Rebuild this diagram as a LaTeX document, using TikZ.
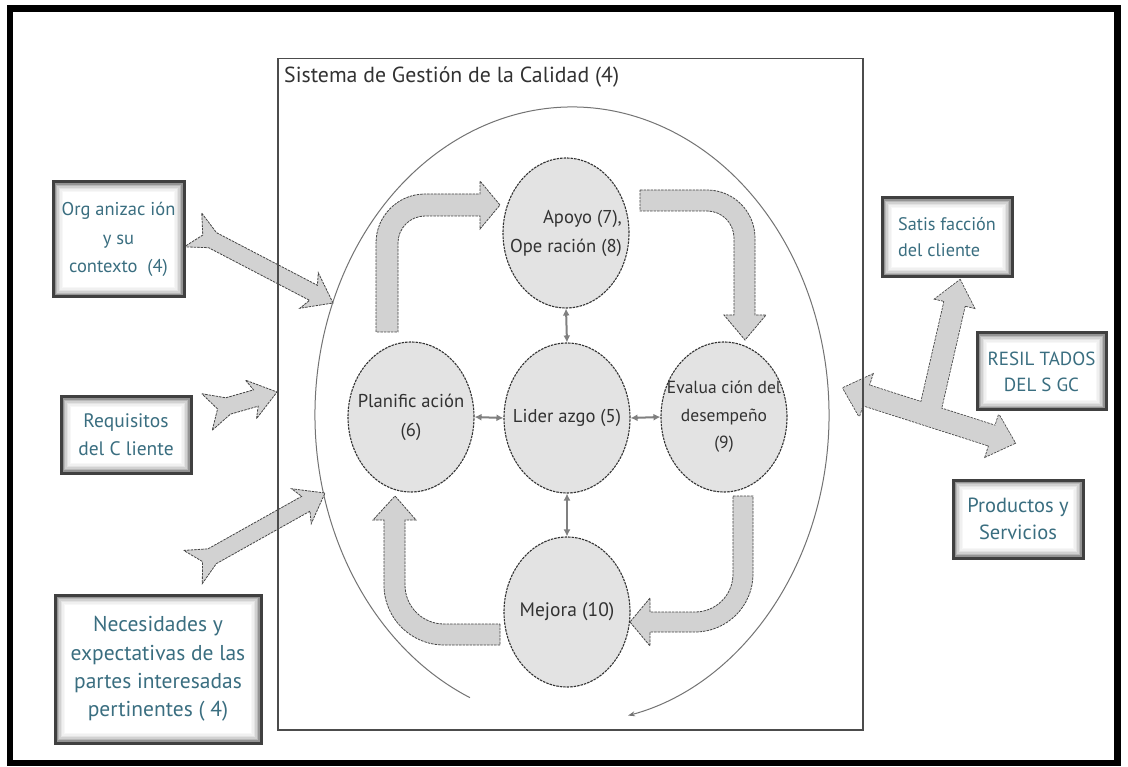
\documentclass[tikz,border=0pt]{standalone}
\usepackage{fontspec}
\setmainfont{PT Sans}
\usetikzlibrary{calc,arrows.meta,shapes.geometric}

\definecolor{boxtext}{RGB}{58,110,128}
\definecolor{inktext}{RGB}{50,50,50}
\definecolor{bubble}{RGB}{227,227,227}
\definecolor{blockfill}{RGB}{210,210,210}
\definecolor{blockline}{RGB}{70,70,70}

\tikzset{
  frame/.style={line width=6.5pt, black},
  sgcbox/.style={draw=black!70, line width=1.5pt, inner sep=0pt},
  bubblenode/.style={ellipse, draw=black!80, dash pattern=on 2.5pt off 1pt,
    line width=1.1pt, fill=bubble, minimum width=126pt, minimum height=150pt,
    inner sep=0pt},
  bubbletext/.style={text=inktext, inner sep=0pt, font=\fontsize{18.6}{29}\selectfont},
  infobox/.style={draw=black!75, line width=3pt, fill=white, text=boxtext,
    font=\fontsize{19.5}{28}\selectfont, inner sep=0pt,
    path picture={
      \foreach \g/\c in {2/42,3.5/28,5/18,6.5/11,8/6,9.5/3}{
        \draw[black!\c, line width=1.6pt]
          ([shift={(\g pt,-\g pt)}]path picture bounding box.north west)
          rectangle ([shift={(-\g pt,\g pt)}]path picture bounding box.south east);
      }}},
  blockarrow/.style={fill=blockfill, draw=blockline, dash pattern=on 2.5pt off 1pt,
    line width=0.8pt, line join=miter},
  blockfillonly/.style={fill=blockfill, draw=none},
  linkarrow/.style={{Latex[length=7pt,width=7pt]}-{Latex[length=7pt,width=7pt]},
    draw=black!50, line width=2pt},
  ovalline/.style={draw=black!55, line width=1pt},
}

% fletched block arrow from tail #1 to tip #2, drawn with style #3
\newcommand\fletcharrow[3]{%
  \path[#3]
    ($(#1)!19pt!90:(#2)$) -- ($(#1)!22pt!(#2)!8.5pt!90:(#2)$)
    -- ($(#2)!22pt!(#1)!8.5pt!-90:(#1)$) -- ($(#2)!27pt!(#1)!20pt!-90:(#1)$)
    -- (#2)
    -- ($(#2)!27pt!(#1)!20pt!90:(#1)$) -- ($(#2)!22pt!(#1)!8.5pt!90:(#1)$)
    -- ($(#1)!22pt!(#2)!8.5pt!-90:(#2)$) -- ($(#1)!19pt!-90:(#2)$)
    -- ($(#1)!11pt!(#2)$) -- cycle;}

% T-shaped output arrow: double-headed shaft #1--#2, branch from #1 to tip #2
\newcommand\tshaft[3]{%
  \path[#3] (#1) -- ($(#1)!24pt!(#2)!22pt!90:(#2)$) -- ($(#1)!24pt!(#2)!10.5pt!90:(#2)$)
    -- ($(#2)!24pt!(#1)!10.5pt!-90:(#1)$) -- ($(#2)!24pt!(#1)!22pt!-90:(#1)$)
    -- (#2) -- ($(#2)!24pt!(#1)!22pt!90:(#1)$) -- ($(#2)!24pt!(#1)!10.5pt!90:(#1)$)
    -- ($(#1)!24pt!(#2)!10.5pt!-90:(#2)$) -- ($(#1)!24pt!(#2)!22pt!-90:(#2)$) -- cycle;}
\newcommand\tbranch[3]{%
  \path[#3] ($(#1)!10.5pt!90:(#2)$) -- ($(#2)!24pt!(#1)!10.5pt!-90:(#1)$)
    -- ($(#2)!24pt!(#1)!20pt!-90:(#1)$) -- (#2)
    -- ($(#2)!24pt!(#1)!20pt!90:(#1)$) -- ($(#2)!24pt!(#1)!10.5pt!90:(#1)$)
    -- ($(#1)!10.5pt!-90:(#2)$) -- cycle;}

\begin{document}
\begin{tikzpicture}[x=1pt, y=-1pt]
  \useasboundingbox (0,0) rectangle (1128,767);
  \fill[white] (0,0) rectangle (1128,767);
  \draw[frame] (10,8.5) rectangle (1117.5,763);

  % large open cycle around the process
  \coordinate (oc) at (572,415);
  \draw[ovalline, -{Stealth[length=7pt,width=5pt]}]
    ($(oc)+(113.4:257 and 308)$)
    arc[start angle=113.4, end angle=437.4, x radius=257, y radius=308];

  % PDCA block arrows
  \path[blockarrow] (376,332) -- (376,243) arc[start angle=180, end angle=270, radius=49]
    -- (480,194) -- (480,181) -- (500,205) -- (480,229) -- (480,216) -- (425,216)
    arc[start angle=270, end angle=180, radius=27] -- (398,332) -- cycle;
  \path[blockarrow] (640,190) -- (707,190) arc[start angle=270, end angle=360, radius=48]
    -- (755,315) -- (766,315) -- (745,340) -- (724,315) -- (734,315) -- (734,238)
    arc[start angle=0, end angle=-90, radius=27] -- (640,211) -- cycle;
  \path[blockarrow] (733,496) -- (753,496) -- (753,574)
    arc[start angle=0, end angle=90, radius=58] -- (650,632) -- (650,646) -- (630,622)
    -- (650,598) -- (650,612) -- (695,612) arc[start angle=90, end angle=0, radius=38] -- cycle;
  \path[blockarrow] (500,624) -- (500,645) -- (444,645)
    arc[start angle=90, end angle=180, radius=60] -- (384,520) -- (373,520) -- (395,496)
    -- (416,520) -- (405,520) -- (405,585) arc[start angle=180, end angle=90, radius=39] -- cycle;

  % process stages (fixed-size ellipses, text set as a centred label)
  \node[bubblenode, label={[bubbletext, align=right]center:{Apoyo (7),\\Ope ración (8)}}]
    (apoyo) at (566,233) {};
  \node[bubblenode, label={[bubbletext, align=center]center:{Planific ación\\(6)}}]
    (plan) at (411,417) {};
  \node[bubblenode, label={[bubbletext]center:{Lider azgo (5)}}]
    (lider) at (567,418) {};
  \node[bubblenode, label={[bubbletext, align=center, font=\fontsize{17.5}{27.5}\selectfont]center:{Evalua ción del\\desempeño\\(9)}}]
    (eval) at (724,417) {};
  \node[bubblenode, label={[bubbletext, font=\fontsize{19.5}{29}\selectfont]center:{Mejora (10)}}]
    (mejora) at (567,612) {};

  \draw[linkarrow] (plan.east) -- (lider.west);
  \draw[linkarrow] (lider.east) -- (eval.west);
  \draw[linkarrow] (apoyo.south) -- (lider.north);
  \draw[linkarrow] (lider.south) -- (mejora.north);

  % inputs
  \coordinate (orgT) at (193,230);  \coordinate (orgH) at (333,303);
  \coordinate (reqT) at (207,412);  \coordinate (reqH) at (277,392);
  \coordinate (necT) at (193,567);  \coordinate (necH) at (325,493);
  \fletcharrow{orgT}{orgH}{blockarrow}
  \fletcharrow{reqT}{reqH}{blockarrow}
  \fletcharrow{necT}{necH}{blockarrow}

  % outputs
  \coordinate (outL) at (843,388); \coordinate (outR) at (1015,443);
  \coordinate (outJ) at (929,415); \coordinate (outU) at (960,280);
  \tshaft{outL}{outR}{blockarrow, line width=1.6pt}
  \tbranch{outJ}{outU}{blockarrow, line width=1.6pt}
  \tshaft{outL}{outR}{blockfillonly}
  \tbranch{outJ}{outU}{blockfillonly}

  % quality management system boundary
  \node[sgcbox, anchor=north west, minimum width=585pt, minimum height=671pt] (sgc) at (277,58) {};
  \node[anchor=west, inner sep=0pt, text=inktext, font=\fontsize{21.8}{24}\selectfont]
    (title) at (284,77) {Sistema de Gestión de la Calidad (4)};

  % context boxes
  \node[infobox, align=center, minimum width=131pt, minimum height=115pt,
    font=\fontsize{18.5}{28.5}\selectfont] (org) at (118.5,239.5)
    {Org anizac ión\\y su\\contexto\ \ (4)};
  \node[infobox, align=center, minimum width=130pt, minimum height=76pt] (req) at (126,435)
    {Requisitos\\del C liente};
  \node[infobox, align=center, minimum width=206pt, minimum height=148pt,
    font=\fontsize{21.5}{28.3}\selectfont] (nec) at (158,669)
    {Necesidades y\\expectativas de las\\partes interesadas\\pertinentes ( 4)};
  \node[infobox, align=left, minimum width=130pt, minimum height=79pt,
    font=\fontsize{18.2}{26}\selectfont] (sat) at (947,237.5)
    {Satis facción\\del cliente};
  \node[infobox, align=center, minimum width=129pt, minimum height=77pt,
    font=\fontsize{19}{26}\selectfont] (res) at (1041.5,371.5)
    {RESIL TADOS\\DEL S GC};
  \node[infobox, align=center, minimum width=130pt, minimum height=78pt,
    font=\fontsize{20.5}{27}\selectfont] (prod) at (1018,519)
    {Productos y\\Servicios};
\end{tikzpicture}
\end{document}
